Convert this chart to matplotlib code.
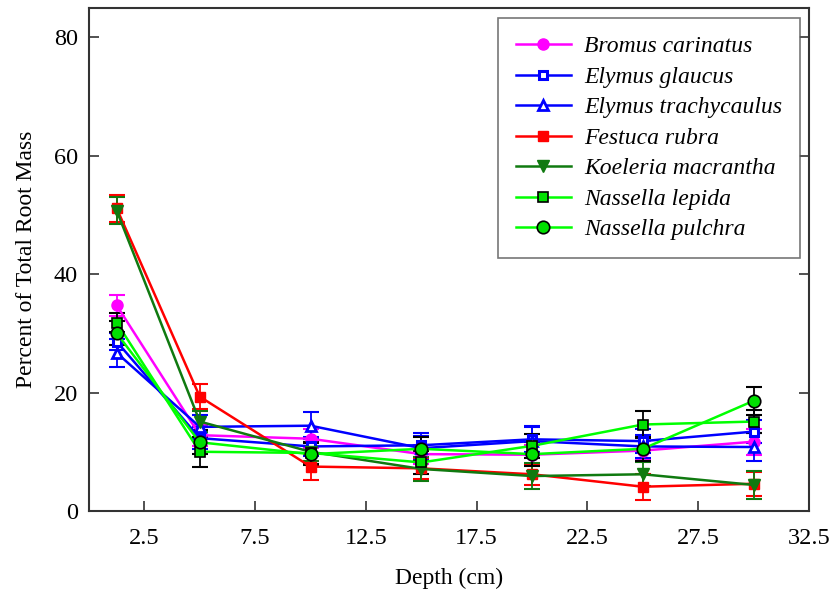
import matplotlib
matplotlib.use("Agg")
import matplotlib.pyplot as plt

plt.rcParams['font.family'] = ['Liberation Serif', 'DejaVu Serif']

depth = [1.25, 5, 10, 15, 20, 25, 30]

species = ["Bromus carinatus", "Elymus glaucus", "Elymus trachycaulus",
           "Festuca rubra", "Koeleria macrantha", "Nassella lepida",
           "Nassella pulchra"]

bromus = [34.7, 12.8, 12.2, 9.6, 9.5, 10.2, 11.7]
bromus_err = [1.8, 1.8, 1.6, 1.6, 1.6, 1.6, 2.2]

glaucus = [28.6, 12.3, 10.9, 11.1, 12.1, 11.8, 13.4]
glaucus_err = [1.5, 1.8, 1.6, 2.0, 2.2, 2.0, 2.0]

trachy = [26.7, 14.2, 14.4, 10.6, 11.8, 10.9, 10.8]
trachy_err = [2.4, 2.0, 2.3, 2.0, 2.4, 2.0, 2.3]

festuca = [51.1, 19.3, 7.5, 7.2, 6.2, 4.1, 4.6]
festuca_err = [2.3, 2.1, 2.2, 1.8, 1.8, 2.2, 2.0]

koeleria = [50.7, 15.1, 10.0, 7.1, 5.9, 6.2, 4.4]
koeleria_err = [2.3, 1.8, 1.6, 2.0, 2.2, 2.0, 2.3]

lepida = [31.8, 10.0, 9.8, 8.2, 11.0, 14.6, 15.1]
lepida_err = [1.6, 2.5, 1.8, 2.0, 2.0, 2.3, 2.0]

pulchra = [30.0, 11.6, 9.6, 10.5, 9.6, 10.5, 18.6]
pulchra_err = [2.0, 2.0, 1.8, 2.0, 2.0, 2.0, 2.4]

series = [
    (bromus, bromus_err, dict(color='#FF00FF', marker='o', ms=8,
                              mfc='#FF00FF', mec='#FF00FF'), '#FF00FF'),
    (glaucus, glaucus_err, dict(color='#0000FF', marker='s', ms=6,
                                mfc='white', mec='#0000FF', mew=2.2), '#0000FF'),
    (trachy, trachy_err, dict(color='#0000FF', marker='^', ms=7,
                              mfc='white', mec='#0000FF', mew=2.0), '#0000FF'),
    (festuca, festuca_err, dict(color='#FF0000', marker='s', ms=7,
                                mfc='#FF0000', mec='#FF0000'), '#FF0000'),
    (koeleria, koeleria_err, dict(color='#107A10', marker='v', ms=8,
                                  mfc='#107A10', mec='#107A10'), '#107A10'),
    (lepida, lepida_err, dict(color='#00FF00', marker='s', ms=7,
                              mfc='#00E000', mec='black', mew=1.2), 'black'),
    (pulchra, pulchra_err, dict(color='#00FF00', marker='o', ms=9,
                                mfc='#00E000', mec='black', mew=1.2), 'black'),
]

fig = plt.figure(figsize=(8.3, 5.97), dpi=100)
ax = fig.add_axes([89 / 830, 1 - 511 / 597, (809 - 89) / 830, (511 - 7.5) / 597])

handles = []
for vals, errs, style, ecol in series:
    ax.errorbar(depth, vals, yerr=errs, fmt='none', ecolor=ecol,
                elinewidth=1.3, capsize=6, capthick=1.5, zorder=2)
    h, = ax.plot(depth, vals, lw=1.8, zorder=3, **style)
    handles.append(h)

ax.set_xlim(0, 32.5)
ax.set_ylim(0, 85)
ax.set_xticks([2.5, 7.5, 12.5, 17.5, 22.5, 27.5, 32.5])
ax.set_xticklabels(['2.5', '7.5', '12.5', '17.5', '22.5', '27.5', '32.5'])
ax.set_yticks([0, 20, 40, 60, 80])
ax.tick_params(axis='both', direction='in', labelsize=17.5, length=7,
               width=1.2, color='#333333')
ax.tick_params(axis='x', pad=12)
ax.tick_params(axis='y', right=True, pad=8)
for sp in ax.spines.values():
    sp.set_color('#333333')
    sp.set_linewidth(1.5)

ax.set_xlabel('Depth (cm)', fontsize=17, labelpad=14)
ax.set_ylabel('Percent of Total Root Mass', fontsize=17, labelpad=12)

leg = ax.legend(handles, species, loc='upper right',
                prop={'style': 'italic', 'size': 17},
                frameon=True, fancybox=False, edgecolor='#555555',
                handlelength=2.35, handletextpad=0.55, borderpad=0.75,
                labelspacing=0.38, borderaxespad=0,
                bbox_to_anchor=(0.9875, 0.979))
leg.get_frame().set_linewidth(1.2)

fig.savefig('out.png', dpi=100)
